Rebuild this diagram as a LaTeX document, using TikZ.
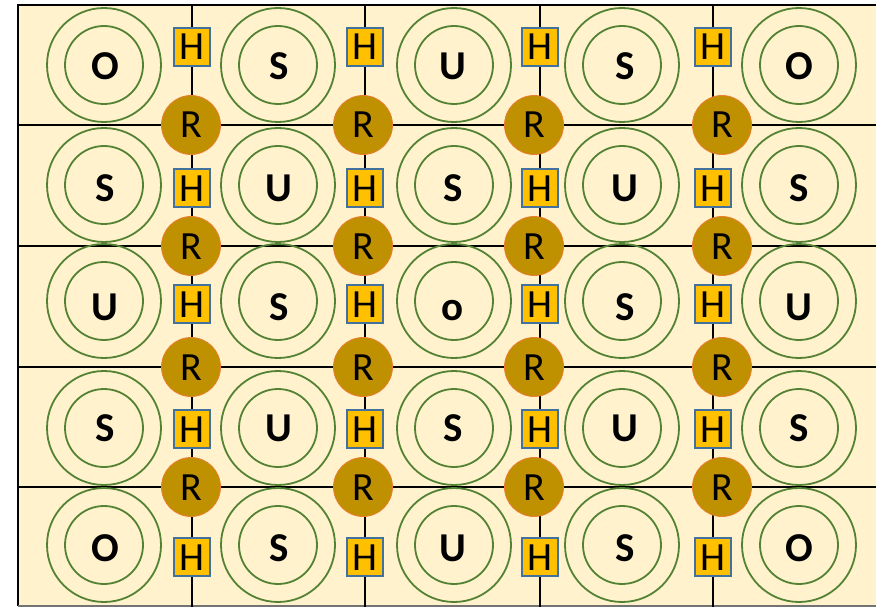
\documentclass[tikz,border=0pt]{standalone}
\usepackage{fontspec}
\setmainfont{Carlito}
\definecolor{bg}{HTML}{FFF2CC}
\definecolor{ring}{HTML}{548235}
\definecolor{hfill}{HTML}{FFC000}
\definecolor{hdraw}{HTML}{41719C}
\definecolor{rfill}{HTML}{BF9000}
\definecolor{rdraw}{HTML}{ED7D31}
\begin{document}
\begin{tikzpicture}[x=1pt,y=-1pt,
  gridline/.style={black,line width=1.8pt},
  outerring/.style={circle,draw=ring,line width=1.8pt,minimum size=114pt,inner sep=0pt},
  innerring/.style={circle,draw=ring,line width=1.8pt,minimum size=78pt,inner sep=0pt},
  letter/.style={inner sep=0pt,text height=26pt,text depth=0pt,font=\fontsize{41}{41}\selectfont\bfseries},
  hbox/.style={rectangle,fill=hfill,draw=hdraw,line width=1.6pt,minimum width=36pt,minimum height=38pt,inner sep=0pt,text height=26pt,text depth=0pt,font=\fontsize{40}{40}\selectfont},
  rball/.style={circle,fill=rfill,draw=rdraw,line width=0.8pt,minimum size=59pt,inner sep=0pt,text height=26pt,text depth=0pt,font=\fontsize{40}{40}\selectfont}]
\useasboundingbox (0,0) rectangle (876,607);
% background
\fill[bg] (18,5) rectangle (876,607);
% frame
\coordinate (tl) at (18,5);
\coordinate (tr) at (876,5);
\coordinate (bl) at (18,606);
\coordinate (br) at (876,606);
\draw[black,line width=2.5pt] (bl) -- (tl) -- (tr);
\draw[black!55,line width=1.5pt] (bl) -- (br);
% grid lines
\foreach \gx [count=\i] in {192,365,540,713} {
  \coordinate (vt\i) at (\gx,5);
  \coordinate (vb\i) at (\gx,607);
  \draw[gridline] (vt\i) -- (vb\i);
}
\foreach \gy [count=\i] in {125,246,367,487} {
  \coordinate (hl\i) at (18,\gy);
  \coordinate (hr\i) at (876,\gy);
  \draw[gridline] (hl\i) -- (hr\i);
}
% rings
\foreach \cx [count=\c] in {104,278,454,622,799} {
  \foreach \cy [count=\r] in {65,185,301,428,545} {
    \node[outerring] (out\r-\c) at (\cx,\cy) {};
    \node[innerring] (in\r-\c) at (\cx,\cy) {};
  }
}
% letters
\foreach \ly/\la/\lb/\lc/\ld/\le [count=\r] in {67/O/S/U/S/O,188/S/U/S/U/S,307/U/S/o/S/U,428/S/U/S/U/S,548/O/S/U/S/O} {
  \node[letter] (let\r-1) at (105,\ly) {\la};
  \node[letter] (let\r-2) at (279,\ly) {\lb};
  \node[letter] (let\r-3) at (453,\ly) {\lc};
  \node[letter] (let\r-4) at (625,\ly) {\ld};
  \node[letter] (let\r-5) at (799,\ly) {\le};
}
% H boxes
\foreach \hx [count=\c] in {192,365,540,713} {
  \foreach \hy [count=\r] in {47,188,304,429,557} {
    \node[hbox] (h\r-\c) at (\hx,\hy) {H};
  }
}
% R balls
\foreach \rx [count=\c] in {191,363,534,722} {
  \foreach \ry [count=\r] in {125,246,367,487} {
    \node[rball] (rb\r-\c) at (\rx,\ry) {R};
  }
}
\end{tikzpicture}
\end{document}
